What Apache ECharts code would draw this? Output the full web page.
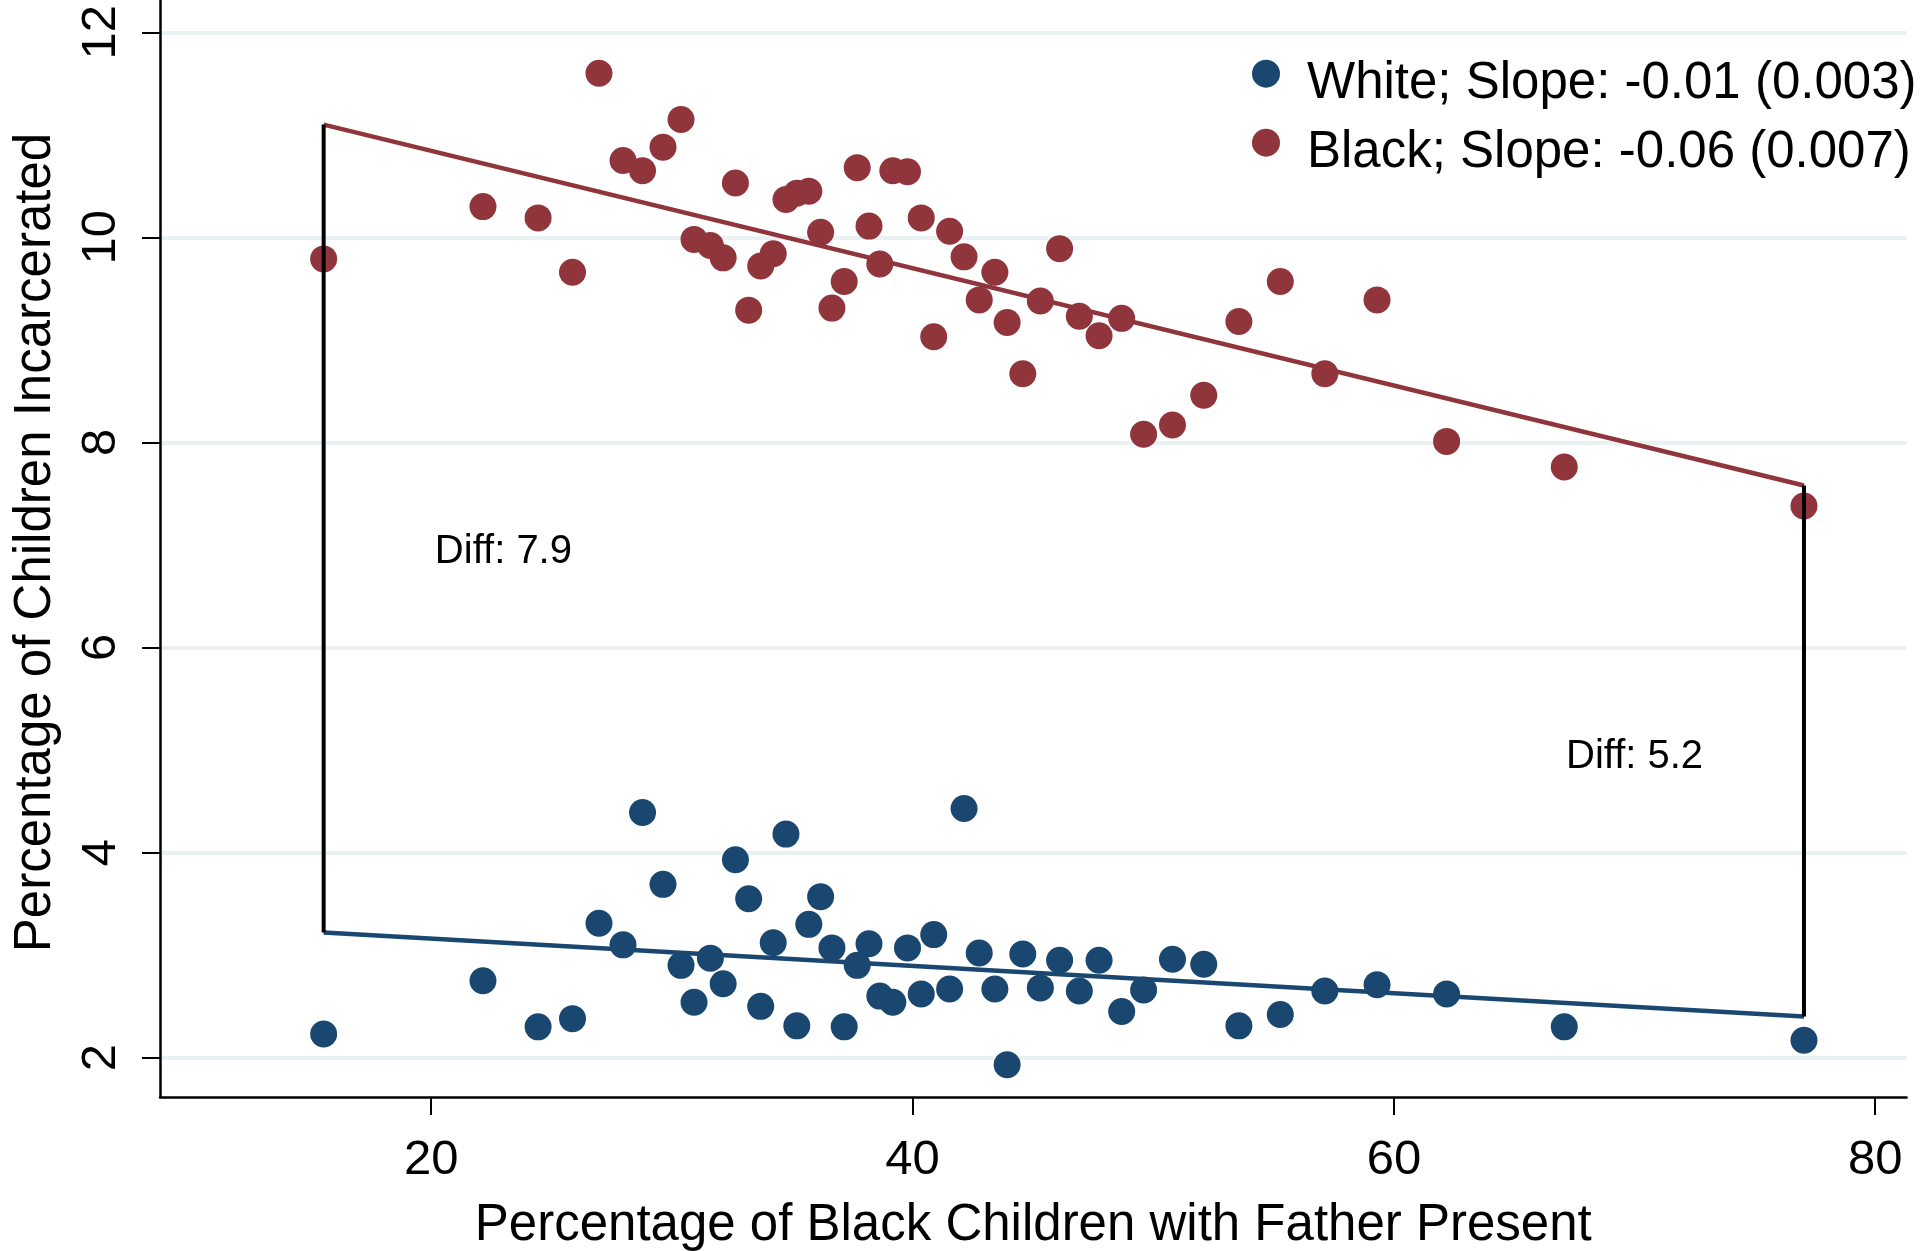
<!DOCTYPE html>
<html>
<head>
<meta charset="utf-8">
<script src="https://cdn.jsdelivr.net/npm/echarts@6/dist/echarts.min.js"></script>
<style>
  html, body { margin: 0; padding: 0; background: #fff; }
  #chart { width: 1926px; height: 1251px; }
</style>
</head>
<body>
<div id="chart"></div>
<script>
// ---- Data ----
const xTicks = [20, 40, 60, 80];
const yTicks = [2, 4, 6, 8, 10, 12];

const fatherPresent = [15.53, 22.15, 24.44, 25.87, 26.97, 27.97, 28.78, 29.63, 30.38, 30.92,
  31.6, 32.13, 32.64, 33.19, 33.69, 34.21, 34.74, 35.19, 35.69, 36.18,
  36.65, 37.16, 37.7, 38.19, 38.64, 39.18, 39.79, 40.36, 40.88, 41.54,
  42.14, 42.77, 43.42, 43.93, 44.58, 45.31, 46.11, 46.93, 47.75, 48.69,
  49.6, 50.8, 52.1, 53.56, 55.28, 57.13, 59.3, 62.19, 67.08, 77.04];

const blackIncarcerated = [9.79, 10.30, 10.19, 9.66, 11.60, 10.75, 10.65, 10.88, 11.15, 9.98,
  9.92, 9.80, 10.53, 9.29, 9.72, 9.84, 10.37, 10.43, 10.45, 10.05,
  9.31, 9.57, 10.68, 10.11, 9.74, 10.65, 10.64, 10.19, 9.03, 10.06,
  9.81, 9.39, 9.66, 9.17, 8.67, 9.38, 9.89, 9.23, 9.04, 9.21,
  8.08, 8.17, 8.46, 9.18, 9.57, 8.67, 9.39, 8.01, 7.76, 7.38];

const whiteIncarcerated = [2.23, 2.75, 2.30, 2.38, 3.31, 3.10, 4.39, 3.69, 2.90, 2.54,
  2.97, 2.72, 3.93, 3.55, 2.50, 3.12, 4.18, 2.31, 3.30, 3.57,
  3.07, 2.30, 2.90, 3.11, 2.60, 2.54, 3.07, 2.62, 3.20, 2.67,
  4.43, 3.02, 2.67, 1.93, 3.01, 2.68, 2.95, 2.65, 2.95, 2.45,
  2.66, 2.96, 2.91, 2.31, 2.42, 2.65, 2.71, 2.62, 2.30, 2.17];

const fitX = [15.53, 77.04];
const blackFit = [11.10, 7.58];
const whiteFit = [3.22, 2.40];

const diffX = [23, 70];
const diffY = [6.93, 4.93];
const diffText = ['Diff: 7.9', 'Diff: 5.2'];

const whiteName = 'White; Slope: -0.01 (0.003)';
const blackName = 'Black; Slope: -0.06 (0.007)';
const xTitle = 'Percentage of Black Children with Father Present';
const yTitle = 'Percentage of Children Incarcerated';

// ---- Styling ----
const FONT = '"Liberation Sans", Arial, Helvetica, sans-serif';
const RED = '#90353b';
const BLUE = '#1a476f';
// circle sitting at the top of a slightly taller box, so it rides a little above the text centre
const LEGEND_DOT = 'path://M0,0.5A0.5,0.5,0,1,1,1,0.5A0.5,0.5,0,1,1,0,0.5ZM0,1.7';

const chart = echarts.init(document.getElementById('chart'), null, { renderer: 'canvas' });

const spikeSeries = fitX.map((x, i) => ({
  type: 'line',
  silent: true,
  symbol: 'none',
  z: 4,
  lineStyle: { color: '#000', width: 4 },
  data: [[x, whiteFit[i]], [x, blackFit[i]]]
}));

const option = {
  animation: false,
  backgroundColor: '#ffffff',
  grid: { left: 160, right: 19.5, top: 0, bottom: 154, containLabel: false, outerBoundsMode: 'none' },
  xAxis: {
    type: 'value',
    min: 8.73,
    max: 81.3,
    name: xTitle,
    nameLocation: 'middle',
    nameGap: 103,
    nameTextStyle: { fontSize: 51, color: '#000', fontFamily: FONT },
    axisLine: { show: true, onZero: false, lineStyle: { color: '#000', width: 2.5 } },
    axisTick: { show: true, length: 18, customValues: xTicks, lineStyle: { color: '#000', width: 2 } },
    axisLabel: { show: true, customValues: xTicks, fontSize: 49, color: '#000', margin: 39, fontFamily: FONT },
    splitLine: { show: false }
  },
  yAxis: {
    type: 'value',
    min: 1.616,
    max: 12.315,
    name: yTitle,
    nameLocation: 'middle',
    nameGap: 99,
    nameRotate: 90,
    nameTextStyle: { fontSize: 51, color: '#000', fontFamily: FONT, padding: [0, 0, 0, 12] },
    axisLine: { show: true, onZero: false, lineStyle: { color: '#000', width: 2.5 } },
    axisTick: { show: true, length: 18, customValues: yTicks, lineStyle: { color: '#000', width: 2 } },
    axisLabel: { show: true, customValues: yTicks, rotate: 90, fontSize: 49, color: '#000', margin: 34, fontFamily: FONT },
    splitLine: { show: true, lineStyle: { color: '#e9f1f2', width: 4 } }
  },
  legend: {
    orient: 'vertical',
    left: 1247,
    top: 53,
    itemWidth: 28,
    itemHeight: 47.6,
    itemGap: 18,
    icon: LEGEND_DOT,
    data: [whiteName, blackName],
    textStyle: { fontSize: 51, color: '#000', fontFamily: FONT, padding: [0, 0, 0, 22] }
  },
  series: [
    {
      type: 'line', silent: true, symbol: 'none', z: 2,
      lineStyle: { color: RED, width: 4.5 },
      data: fitX.map((x, i) => [x, blackFit[i]])
    },
    {
      type: 'line', silent: true, symbol: 'none', z: 2,
      lineStyle: { color: BLUE, width: 4.5 },
      data: fitX.map((x, i) => [x, whiteFit[i]])
    },
    {
      name: whiteName, type: 'scatter', z: 3, symbol: 'circle', symbolSize: 27,
      itemStyle: { color: BLUE, opacity: 1 },
      data: fatherPresent.map((x, i) => [x, whiteIncarcerated[i]])
    },
    {
      name: blackName, type: 'scatter', z: 3, symbol: 'circle', symbolSize: 27,
      itemStyle: { color: RED, opacity: 1 },
      data: fatherPresent.map((x, i) => [x, blackIncarcerated[i]])
    },
    ...spikeSeries,
    {
      type: 'scatter', silent: true, z: 5, symbolSize: 1,
      itemStyle: { color: 'rgba(0,0,0,0)' },
      label: {
        show: true, position: 'inside', formatter: (p) => p.name,
        fontSize: 40, color: '#000', opacity: 1, textBorderWidth: 0, fontFamily: FONT
      },
      data: diffX.map((x, i) => ({ name: diffText[i], value: [x, diffY[i]] }))
    }
  ]
};

chart.setOption(option);
</script>
</body>
</html>
